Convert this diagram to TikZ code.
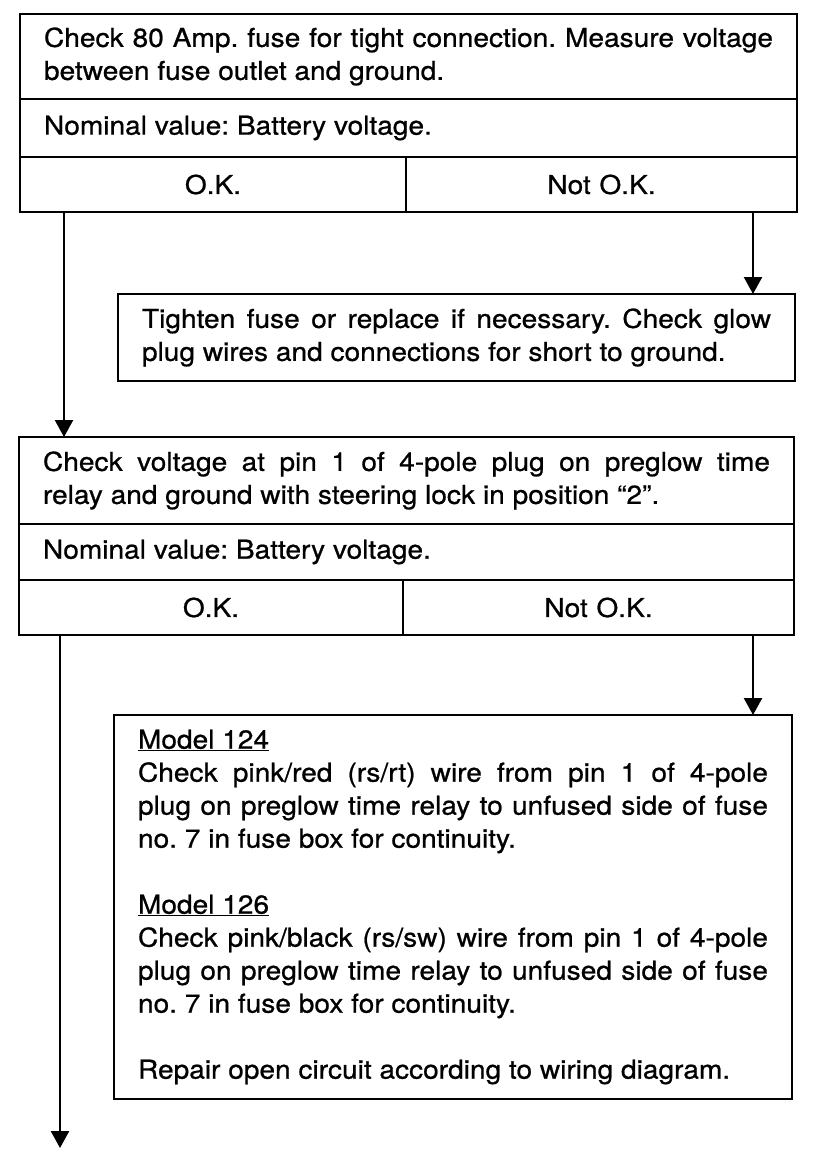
\documentclass[tikz,border=0pt]{standalone}
\usepackage{fontspec}
\setmainfont{TeX Gyre Heros}[FakeStretch=1.08, FakeBold=0.8]
\setlength{\parindent}{0pt}
\frenchspacing
\usetikzlibrary{arrows.meta, positioning}

\begin{document}
\begin{tikzpicture}[x=1pt, y=-1pt,
    every node/.style={font=\fontsize{26}{33}\selectfont},
    cell/.style={draw, line width=2.8pt, anchor=north west, outer sep=0pt, inner xsep=24pt, inner ysep=0pt, align=justify},
    okcell/.style={cell, align=center, minimum height=55pt},
    flow/.style={line width=2.4pt, -{Triangle[width=18pt, length=17pt]}}]
\useasboundingbox (0,0) rectangle (832,1174);

% first check
\node[cell, text width=729pt, minimum height=85pt] (q1text) at (20,14) {Check 80 Amp. fuse for tight connection. Measure voltage\linebreak between fuse outlet and ground.};
\node[cell, text width=729pt, minimum height=58pt] (q1nom) at (q1text.south west) {Nominal value: Battery voltage.};
\node[okcell, text width=338pt] (q1ok) at (q1nom.south west) {O.K.};
\node[okcell, text width=343pt] (q1nok) at (q1ok.north east) {Not O.K.};

\node[cell, text width=629pt, minimum height=87pt] (fix1) at (118,294) {Tighten fuse or replace if necessary. Check glow\linebreak plug wires and connections for short to ground.};

% second check
\node[cell, text width=727pt, minimum height=87pt] (q2text) at (19,437) {Check voltage at pin 1 of 4-pole plug on preglow time\linebreak relay and ground with steering lock in position “2”.};
\node[cell, text width=727pt, minimum height=56pt] (q2nom) at (q2text.south west) {Nominal value: Battery voltage.};
\node[okcell, text width=336pt] (q2ok) at (q2nom.south west) {O.K.};
\node[okcell, text width=343pt] (q2nok) at (q2ok.north east) {Not O.K.};

\node[cell, text width=630pt, minimum height=384pt] (fix2) at (114,715) {\underline{Model 124}\par
  Check pink/red (rs/rt) wire from pin 1 of 4-pole\linebreak plug on preglow time relay to unfused side of fuse\linebreak no. 7 in fuse box for continuity.\par\vspace{33pt}
  \underline{Model 126}\par
  Check pink/black (rs/sw) wire from pin 1 of 4-pole\linebreak plug on preglow time relay to unfused side of fuse\linebreak no. 7 in fuse box for continuity.\par\vspace{33pt}
  Repair open circuit according to wiring diagram.};

% connectors
\coordinate (a1) at ([xshift=44pt]q1ok.south west);
\draw[flow] (a1) -- (a1 |- q2text.north);
\coordinate (a2) at ([xshift=-44pt]q1nok.south east);
\draw[flow] (a2) -- (a2 |- fix1.north);
\coordinate (a3) at ([xshift=41pt]q2ok.south west);
\coordinate (a3end) at (60,1148);
\draw[flow] (a3) -- (a3end);
\coordinate (a4) at ([xshift=-41pt]q2nok.south east);
\draw[flow] (a4) -- (a4 |- fix2.north);
\end{tikzpicture}
\end{document}
